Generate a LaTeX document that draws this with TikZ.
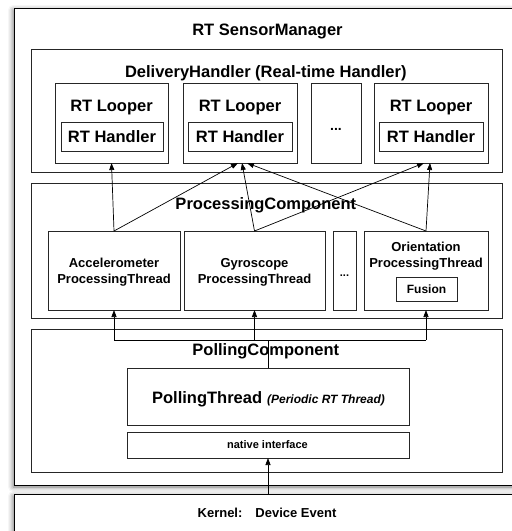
\documentclass[tikz,border=0pt]{standalone}
\usepackage{fontspec}
\setmainfont{Liberation Sans}
\usetikzlibrary{arrows.meta,shadows.blur,calc}
\begin{document}
\begin{tikzpicture}[x=1pt,y=-1pt,
  box/.style={draw=black!85, line width=0.8pt, anchor=north west, inner sep=0pt, outer sep=0pt},
  bigbox/.style={box, draw=black, line width=1pt, fill=white,
    blur shadow={shadow xshift=-1pt, shadow yshift=-2pt, shadow blur radius=5pt, shadow opacity=55}},
  ttl/.style={anchor=base, inner sep=0pt, font=\fontsize{16.5}{19}\selectfont\bfseries},
  sml/.style={anchor=base, inner sep=0pt, align=center, font=\fontsize{13}{16}\selectfont\bfseries},
  arr/.style={-{Triangle[length=7pt,width=5pt]}, line width=0.7pt, black},
  conn/.style={line width=0.7pt, black}
]
\useasboundingbox (0,0) rectangle (512,531);
\clip (0,0) rectangle (512,531);

% containers
\node[bigbox, minimum width=506pt, minimum height=477pt] (outer) at (14,8) {};
\node[bigbox, minimum width=506pt, minimum height=50pt] (kernel) at (14,494) {};
\node[box, minimum width=471pt, minimum height=123pt] (deliv) at (31,49) {};
\node[box, minimum width=471pt, minimum height=135pt] (proc) at (31,183) {};
\node[box, minimum width=471pt, minimum height=143pt] (pollc) at (31,329) {};

% titles
\node[ttl] (tmgr) at (267.5,35) {RT SensorManager};
\node[ttl] (tdel) at (265.8,77) {DeliveryHandler (Real-time Handler)};
\node[ttl] (tproc) at (265.8,209) {ProcessingComponent};
\node[ttl] (tpoll) at (265.8,355.7) {PollingComponent};

% delivery handler row
\node[box, minimum width=113pt, minimum height=80pt] (loop1) at (55,83) {};
\node[box, minimum width=114pt, minimum height=80pt] (loop2) at (183,83) {};
\node[box, minimum width=50pt, minimum height=80pt] (loopd) at (311,83) {};
\node[box, minimum width=114pt, minimum height=80pt] (loop4) at (374,83) {};
\node[ttl] (tl1) at (loop1.center |- 0,111) {RT Looper};
\node[ttl] (tl2) at (loop2.center |- 0,111) {RT Looper};
\node[ttl] (tl4) at (loop4.center |- 0,111) {RT Looper};
\node[anchor=base, inner sep=0pt, font=\fontsize{14}{16}\selectfont\bfseries] (tld) at (loopd.center |- 0,130.5) {...};
\node[box, minimum width=102pt, minimum height=29pt, font=\fontsize{16.5}{19}\selectfont\bfseries] (hand1) at (61,122) {RT Handler};
\node[box, minimum width=104pt, minimum height=29pt, font=\fontsize{16.5}{19}\selectfont\bfseries] (hand2) at (188,122) {RT Handler};
\node[box, minimum width=104pt, minimum height=29pt, font=\fontsize{16.5}{19}\selectfont\bfseries] (hand4) at (379,122) {RT Handler};

% processing row
\node[box, minimum width=132pt, minimum height=79pt] (acc) at (48,231) {};
\node[box, minimum width=141pt, minimum height=79pt] (gyro) at (184,231) {};
\node[box, minimum width=23pt, minimum height=79pt] (thd) at (333,231) {};
\node[box, minimum width=124pt, minimum height=79pt] (orient) at (364,231) {};
\node[sml] (tacc) at (acc.center |- 0,283.3) {Accelerometer\\ProcessingThread};
\node[sml] (tgyro) at (gyro.center |- 0,283.3) {Gyroscope\\ProcessingThread};
\node[sml] (torient) at (orient.center |- 0,267.7) {Orientation\\ProcessingThread};
\node[anchor=base, inner sep=0pt, font=\fontsize{11}{13}\selectfont\bfseries] (tthd) at (thd.center |- 0,276) {...};
\node[box, minimum width=61pt, minimum height=24pt, font=\fontsize{12}{14}\selectfont\bfseries] (fusion) at (396,277) {Fusion};

% polling
\node[box, minimum width=282pt, minimum height=57pt] (poll) at (127,368) {};
\node[anchor=base, inner sep=0pt, font=\fontsize{16.5}{19}\selectfont\bfseries] (tpt) at (268.5,403.3)
  {PollingThread\hspace{5pt}{\fontsize{12}{14}\selectfont\itshape (Periodic RT Thread)}};
\node[box, minimum width=282pt, minimum height=26pt] (native) at (127,432) {};
\node[anchor=base, inner sep=0pt, font=\fontsize{11}{13}\selectfont\bfseries] (tnat) at (267.5,448) {native interface};
\node[anchor=base, inner sep=0pt, font=\fontsize{13}{15}\selectfont\bfseries] (tker) at (267,517.7) {Kernel:\hspace{13pt}Device Event};

% connectors processing -> delivery
\draw[arr] (acc.north) -- (loop1.south);
\draw[arr] (acc.north) -- ($(loop2.south)+(-2,0)$);
\draw[arr] (gyro.north) -- ($(loop2.south)+(2,0)$);
\draw[arr] (gyro.north) -- ($(loop4.south)+(-7,0)$);
\draw[arr] (orient.north) -- ($(loop2.south)+(7,0)$);
\draw[arr] (orient.north) -- ($(loop4.south)+(-1,0)$);

% polling -> processing
\coordinate (j) at ($(poll.north)+(0,-28)$);
\draw[conn] (poll.north) -- (j);
\draw[conn] (acc.south |- j) -- (orient.south |- j);
\draw[arr] (acc.south |- j) -- (acc.south);
\draw[arr] (gyro.south |- j) -- (gyro.south);
\draw[arr] (orient.south |- j) -- (orient.south);

% kernel -> native interface
\draw[arr] (native.south |- kernel.north) -- (native.south);
\end{tikzpicture}
\end{document}
